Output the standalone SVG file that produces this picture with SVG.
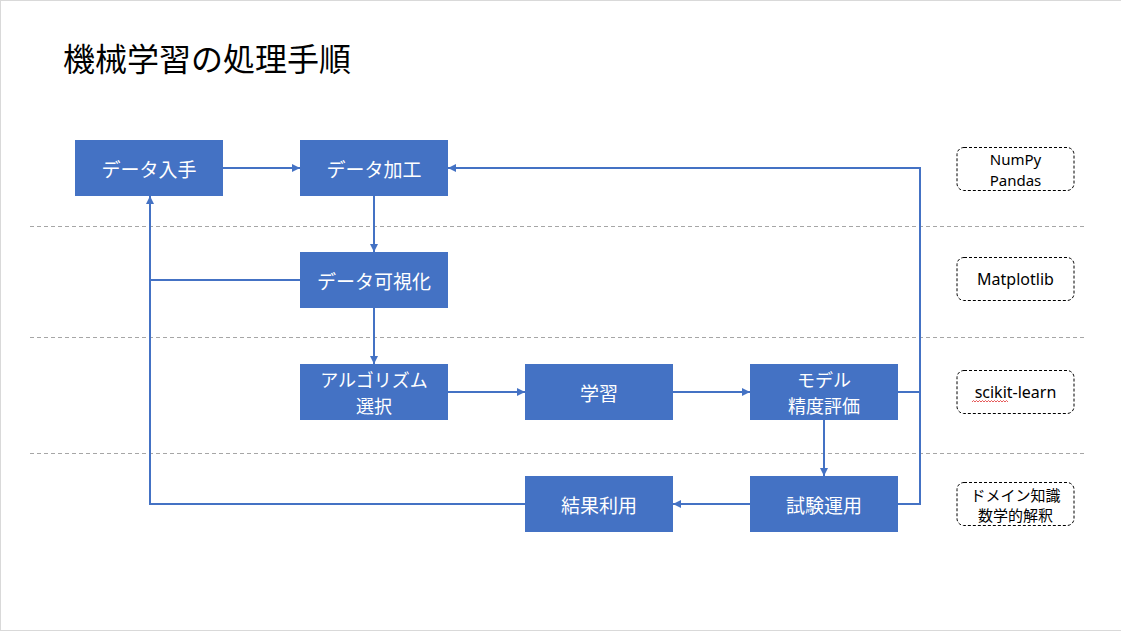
<svg xmlns="http://www.w3.org/2000/svg" width="1121" height="632" viewBox="0 0 1121 632">
<style>
.box{fill:#4472C4}
.bt{fill:#ffffff;font-family:"Noto Sans CJK JP","Noto Sans",sans-serif;font-size:19px;text-anchor:middle;dominant-baseline:central}
.bt2{fill:#ffffff;font-family:"Noto Sans CJK JP","Noto Sans",sans-serif;font-size:18px;text-anchor:middle;dominant-baseline:central}
.lib{fill:#ffffff;stroke:#000000;stroke-width:1;stroke-dasharray:3,2}
.lt{fill:#000000;font-family:"Noto Sans","Noto Sans CJK JP",sans-serif;font-size:16px;text-anchor:middle;dominant-baseline:central}
.lt2{fill:#000000;font-family:"Noto Sans","Noto Sans CJK JP",sans-serif;font-size:15px;text-anchor:middle;dominant-baseline:central}
.lj{fill:#000000;font-family:"Noto Sans CJK JP",sans-serif;font-size:15px;text-anchor:middle;dominant-baseline:central}
.sep{stroke:#a6a6a6;stroke-width:1;stroke-dasharray:4,3;fill:none}
.c{stroke:#4472C4;stroke-width:2;fill:none}
.ca{stroke:#4472C4;stroke-width:2;fill:none;marker-end:url(#ah)}
</style>
<defs>
<marker id="ah" markerUnits="userSpaceOnUse" markerWidth="10" markerHeight="10" refX="8" refY="4" orient="auto">
<path d="M0,0 L8,4 L0,8 Z" fill="#4472C4"/>
</marker>
</defs>
<rect x="0" y="0" width="1121" height="632" fill="#ffffff"/>
<rect x="0.5" y="0.5" width="1122" height="630" fill="none" stroke="#d9d9d9" stroke-width="1"/>
<text x="63" y="71" font-family="Noto Sans CJK JP,sans-serif" font-size="32" fill="#000000">機械学習の処理手順</text>

<g id="separators">
<line class="sep" x1="30" y1="226.5" x2="1084" y2="226.5"/>
<line class="sep" x1="30" y1="337.5" x2="1084" y2="337.5"/>
<line class="sep" x1="30" y1="453.5" x2="1084" y2="453.5"/>
</g>

<g id="connectors">
<line class="ca" x1="223" y1="168" x2="300" y2="168"/>
<line class="ca" x1="374" y1="196" x2="374" y2="252"/>
<line class="ca" x1="374" y1="308" x2="374" y2="364"/>
<line class="ca" x1="448" y1="392" x2="525" y2="392"/>
<line class="ca" x1="673" y1="392" x2="750" y2="392"/>
<line class="ca" x1="824" y1="420" x2="824" y2="476"/>
<line class="ca" x1="750" y1="504" x2="673" y2="504"/>
<line class="c" x1="898" y1="392" x2="920" y2="392"/>
<polyline class="ca" points="898,504 920,504 920,168 448,168"/>
<polyline class="ca" points="525,504 150,504 150,196"/>
<line class="c" x1="300" y1="280" x2="150" y2="280"/>
</g>

<g id="n-data-get"><rect class="box" x="75" y="140" width="148" height="56"/><text class="bt" x="149" y="168">データ入手</text></g>
<g id="n-data-proc"><rect class="box" x="300" y="140" width="148" height="56"/><text class="bt" x="374" y="168">データ加工</text></g>
<g id="n-data-vis"><rect class="box" x="300" y="252" width="148" height="56"/><text class="bt" x="374" y="280">データ可視化</text></g>
<g id="n-algo"><rect class="box" x="300" y="364" width="148" height="56"/><text class="bt2" x="374" y="379">アルゴリズム</text><text class="bt2" x="374" y="405">選択</text></g>
<g id="n-learn"><rect class="box" x="525" y="364" width="148" height="56"/><text class="bt" x="599" y="392">学習</text></g>
<g id="n-eval"><rect class="box" x="750" y="364" width="148" height="56"/><text class="bt2" x="824" y="379">モデル</text><text class="bt2" x="824" y="405">精度評価</text></g>
<g id="n-trial"><rect class="box" x="750" y="476" width="148" height="56"/><text class="bt" x="824" y="504">試験運用</text></g>
<g id="n-use"><rect class="box" x="525" y="476" width="148" height="56"/><text class="bt" x="599" y="504">結果利用</text></g>

<g id="lib-numpy"><rect class="lib" x="957" y="147.5" width="117" height="43" rx="7"/><text class="lt2" x="1015.5" y="158.5">NumPy</text><text class="lt2" x="1015.5" y="179.5">Pandas</text></g>
<g id="lib-matplotlib"><rect class="lib" x="957" y="257.5" width="117" height="43" rx="7"/><text class="lt" x="1015.5" y="279">Matplotlib</text></g>
<g id="lib-sklearn"><rect class="lib" x="957" y="370.5" width="117" height="43" rx="7"/><text class="lt" x="1015.5" y="392">scikit-learn</text>
<path d="M972,402 l1.5,-1.5 l1.5,1.5 l1.5,-1.5 l1.5,1.5 l1.5,-1.5 l1.5,1.5 l1.5,-1.5 l1.5,1.5 l1.5,-1.5 l1.5,1.5 l1.5,-1.5 l1.5,1.5 l1.5,-1.5 l1.5,1.5 l1.5,-1.5 l1.5,1.5 l1.5,-1.5 l1.5,1.5 l1.5,-1.5 l1.5,1.5 l1.5,-1.5 l1.5,1.5 l1.5,-1.5 l1.5,1.5" fill="none" stroke="#e03030" stroke-width="0.8"/></g>
<g id="lib-domain"><rect class="lib" x="957" y="482.5" width="117" height="43" rx="7"/><text class="lj" x="1015.5" y="494">ドメイン知識</text><text class="lj" x="1015.5" y="514">数学的解釈</text></g>
</svg>
